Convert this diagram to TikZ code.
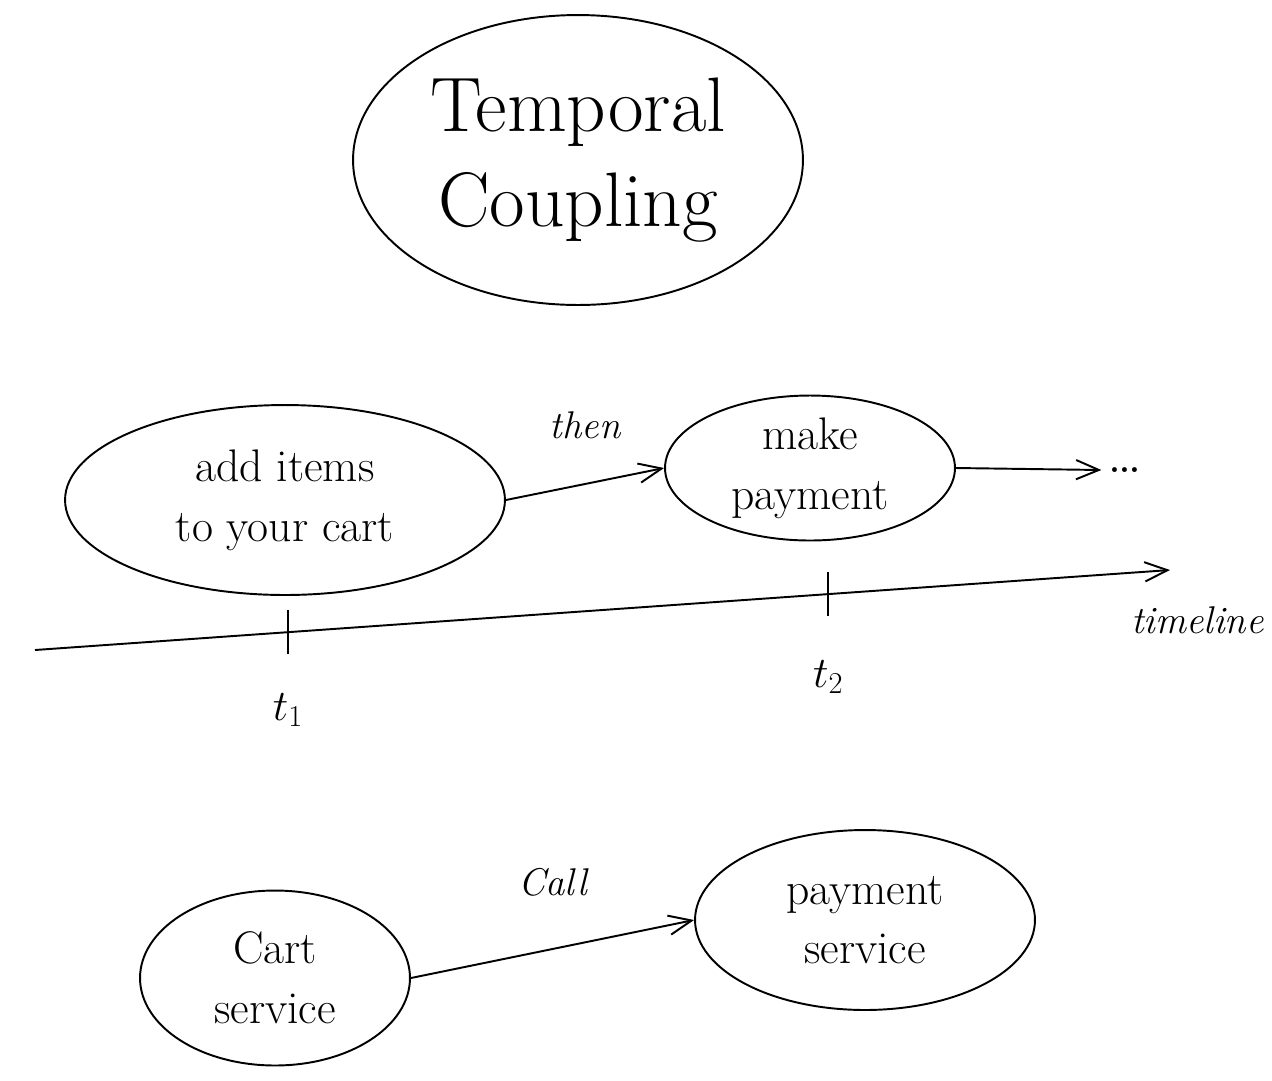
\documentclass[tikz,border=0pt]{standalone}
\usepackage{tikz}
\usetikzlibrary{arrows.meta}
\usetikzlibrary{shapes.geometric}
\usetikzlibrary{positioning}
\tikzset{
  >={Straight Barb[length=13pt,width=11pt]},
  blob/.style={draw, ellipse, line width=1.1pt, align=center, inner sep=0pt},
  flow/.style={->, line width=1.1pt},
  hand/.style={font=\fontsize{26}{34}\selectfont}
}

\begin{document}
\begin{tikzpicture}[x=0.02cm, y=-0.02cm,
    note/.style={font=\fontsize{22}{26}\selectfont\itshape},
    tick/.style={line width=1.1pt}
]
\useasboundingbox (0,0) rectangle (1272,1080);

% Title
\node[blob, minimum width=9cm, minimum height=5.8cm,
      font=\fontsize{44}{54}\selectfont] (title) at (578,160) {Temporal\\Coupling};

% Steps in time
\node[blob, hand, minimum width=8.8cm, minimum height=3.8cm] (additems) at (285,500) {add items\\to your cart};
\node[blob, hand, minimum width=5.8cm, minimum height=2.9cm] (payment) at (810,468) {make\\payment};
\node[font=\fontsize{34}{40}\selectfont] (more) at (1125,470) {\dots};

\draw[flow] (additems.east) -- node[note, above=22pt] {then} (payment.west);
\draw[flow] (payment.east) -- (more.west);

% Timeline
\coordinate (tlstart) at (35,650);
\coordinate (tlend) at (1170,570);
\draw[flow] (tlstart) -- (tlend);
\path (tlstart) -- (tlend) coordinate[pos=0.223] (tone) coordinate[pos=0.699] (ttwo);
\draw[tick] (tone) ++(0,-22) -- ++(0,44);
\draw[tick] (ttwo) ++(0,-22) -- ++(0,44);
\node[hand, below=1.1cm of tone] (tonelabel) {$t_1$};
\node[hand, below=1.2cm of ttwo] (ttwolabel) {$t_2$};
\node[note, below right=0.6cm and -0.9cm of tlend] (tllabel) {timeline};

% Services
\node[blob, hand, minimum width=5.4cm, minimum height=3.5cm] (cart) at (275,978) {Cart\\service};
\node[blob, hand, minimum width=6.8cm, minimum height=3.6cm] (paysvc) at (865,920) {payment\\service};

\draw[flow] (cart.east) -- node[note, above=26pt] {Call} (paysvc.west);

\end{tikzpicture}
\end{document}
